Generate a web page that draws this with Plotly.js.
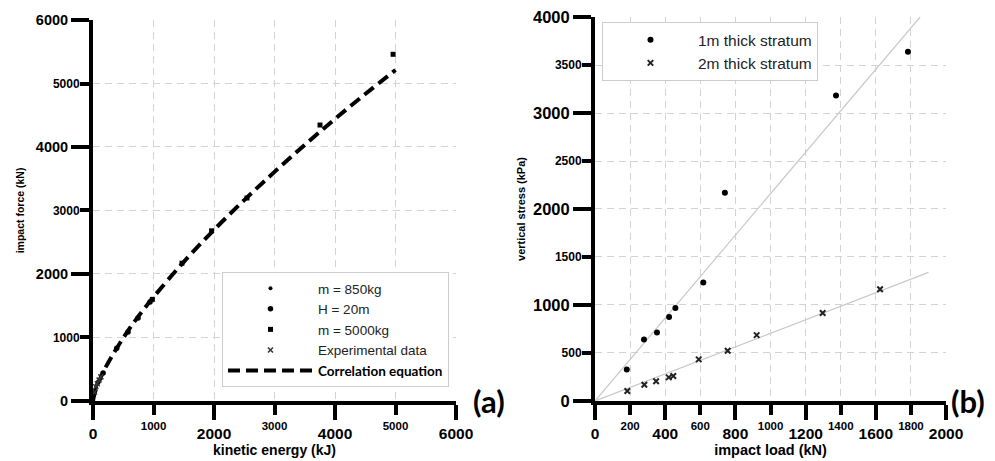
<!DOCTYPE html>
<html><head><meta charset="utf-8">
<script src="https://cdn.plot.ly/plotly-3.0.1.min.js"></script>
<style>html,body{margin:0;padding:0;background:#fff}#chart{width:995px;height:461px}</style>
</head><body><div id="chart"></div>
<script>
// ---------- Panel (a) data ----------
const curveE = [0, 20, 50, 100, 200, 300, 500, 700, 1000, 1500, 2000, 2500, 3000, 3500, 4000, 4500, 5000];
const curveF = [0, 98, 189, 311, 514, 686, 993, 1270, 1636, 2191, 2695, 3164, 3608, 4034, 4442, 4834, 5213];
const m850E = [17, 33, 50, 67, 83];
const m850F = [95, 165, 215, 262, 305];
const h20E = [167, 392, 579, 744, 942];
const h20F = [440, 830, 1087, 1307, 1559];
const m5000E = [981, 1470, 1960, 2545, 3752, 4960];
const m5000F = [1600, 2170, 2680, 3197, 4346, 5460];
const expE = [25, 45, 70, 100, 130];
const expF = [140, 225, 270, 330, 380];
const aXMajor = [0, 2000, 4000, 6000];
const aXMinor = [1000, 3000, 5000];
const aYMajor = [0, 2000, 4000, 6000];
const aYMinor = [1000, 3000, 5000];
// ---------- Panel (b) data ----------
const load1 = [181, 279, 353, 422, 458, 617, 740, 1373, 1783];
const stress1 = [329, 641, 714, 876, 969, 1233, 2170, 3182, 3639];
const load2 = [184, 281, 348, 420, 446, 591, 756, 921, 1297, 1624];
const stress2 = [104, 169, 205, 246, 260, 433, 523, 686, 917, 1164];
const fit1Load = [0, 1852], fit1Stress = [0, 4000];
const fit2Load = [0, 1900], fit2Stress = [0, 1340];
const bXMajor = [0, 400, 800, 1200, 1600, 2000];
const bXMinor = [200, 600, 1000, 1400, 1800];
const bYMajor = [0, 1000, 2000, 3000, 4000];
const bYMinor = [500, 1500, 2500, 3500];

const AR = 'Liberation Sans, Arial, sans-serif';
const GRID = '#d3d3d3', DASH = '7px,5px';
const bold = (s) => ({family: AR, size: s, color: '#000', weight: 'bold'});

function mainAxis(range, major, minor, domain, anchor, len, mlen, fs, title, tfs, standoff) {
  return {
    domain: domain, anchor: anchor, range: range, tickmode: 'array',
    tickvals: major, ticktext: major.map(String),
    ticks: 'outside', ticklen: len, tickwidth: 4, tickcolor: '#000',
    showline: true, linewidth: 4, linecolor: '#000', zeroline: false,
    showgrid: true, gridcolor: GRID, gridwidth: 1, griddash: DASH,
    minor: {tickmode: 'array', tickvals: minor, showgrid: true, gridcolor: GRID, gridwidth: 1, griddash: DASH,
            ticks: 'outside', ticklen: mlen, tickwidth: 4, tickcolor: '#000'},
    tickfont: bold(fs), fixedrange: true,
    title: {text: title, font: bold(tfs), standoff: standoff}
  };
}
function overAxis(over, anchor, range, minor, len, fs) {
  return {
    overlaying: over, anchor: anchor, range: range, tickmode: 'array',
    tickvals: minor, ticktext: minor.map(String),
    ticks: 'outside', ticklen: len, tickwidth: 1, tickcolor: 'rgba(0,0,0,0)',
    showline: false, zeroline: false, showgrid: false,
    tickfont: bold(fs), fixedrange: true
  };
}

const traces = [
  {x: m850E, y: m850F, xaxis: 'x3', yaxis: 'y3', mode: 'markers', name: 'm = 850kg',
   marker: {symbol: 'circle', size: 4, color: '#000'}},
  {x: h20E, y: h20F, xaxis: 'x3', yaxis: 'y3', mode: 'markers', name: 'H = 20m',
   marker: {symbol: 'circle', size: 5.5, color: '#000'}},
  {x: m5000E, y: m5000F, xaxis: 'x3', yaxis: 'y3', mode: 'markers', name: 'm = 5000kg',
   marker: {symbol: 'square', size: 5, color: '#000'}},
  {x: expE, y: expF, xaxis: 'x3', yaxis: 'y3', mode: 'markers', name: 'Experimental data',
   marker: {symbol: 'x-thin', size: 5, line: {width: 1.5, color: '#333'}, color: '#333'}},
  {x: curveE, y: curveF, xaxis: 'x', yaxis: 'y', mode: 'lines', line: {shape: 'spline', color: '#000', width: 4, dash: '12px,6px'},
   name: '<span style="font-family:Lato;font-weight:bold;font-size:13.5px;fill:#000">Correlation equation</span>'},
  // panel (b)
  {x: fit1Load, y: fit1Stress, xaxis: 'x2', yaxis: 'y2', mode: 'lines', showlegend: false,
   line: {color: '#c9c9c9', width: 1.2}},
  {x: fit2Load, y: fit2Stress, xaxis: 'x2', yaxis: 'y2', mode: 'lines', showlegend: false,
   line: {color: '#c9c9c9', width: 1.2}},
  {x: load1, y: stress1, xaxis: 'x4', yaxis: 'y4', mode: 'markers', name: '1m thick stratum', legend: 'legend2',
   marker: {symbol: 'circle', size: 6, color: '#000'}},
  {x: load2, y: stress2, xaxis: 'x4', yaxis: 'y4', mode: 'markers', name: '2m thick stratum', legend: 'legend2',
   marker: {symbol: 'x-thin', size: 5.5, line: {width: 2, color: '#222'}, color: '#222'}}
];

const layout = {
  width: 995, height: 461, margin: {l: 0, r: 0, t: 0, b: 0},
  paper_bgcolor: '#fff', plot_bgcolor: '#fff', showlegend: true,
  xaxis: mainAxis([0, 6000], aXMajor, aXMinor, [0.0935, 0.4583], 'y', 15, 10, 15.5, 'kinetic energy (kJ)', 14, 2),
  yaxis: mainAxis([0, 6000], aYMajor, aYMinor, [0.1302, 0.9566], 'x', 18, 9, 14.5, 'impact force (kN)', 10.5, 10),
  xaxis3: overAxis('x', 'y', [0, 6000], aXMinor, 14, 11.5),
  yaxis3: overAxis('y', 'x', [0, 6000], aYMinor, 10, 12),
  xaxis2: mainAxis([0, 2000], bXMajor, bXMinor, [0.598, 0.9508], 'y2', 15, 10, 15.5, 'impact load (kN)', 14.5, 2),
  yaxis2: mainAxis([0, 4000], bYMajor, bYMinor, [0.1302, 0.9631], 'x2', 18, 9, 16.5, 'vertical stress (kPa)', 11, 6),
  xaxis4: overAxis('x2', 'y2', [0, 2000], bXMinor, 14, 11.5),
  yaxis4: overAxis('y2', 'x2', [0, 4000], bYMinor, 10, 12),
  legend: {x: 0.2231, y: 0.41, xanchor: 'left', yanchor: 'top', bgcolor: '#fff',
    bordercolor: '#cccccc', borderwidth: 1, itemwidth: 85,
    font: {family: AR, size: 13.5, color: '#222'}, tracegroupgap: 0},
  legend2: {x: 0.605, y: 0.952, xanchor: 'left', yanchor: 'top', bgcolor: '#fff',
    bordercolor: '#cccccc', borderwidth: 1, itemwidth: 85,
    font: {family: AR, size: 15.5, color: '#222'}},
  annotations: [
    {text: '(a)', xref: 'paper', yref: 'paper', x: 471 / 995, y: (461 - 401) / 461, xanchor: 'left', yanchor: 'middle',
     showarrow: false, font: {family: 'Lato', size: 31, color: '#000', weight: 'bold'}},
    {text: '(b)', xref: 'paper', yref: 'paper', x: 949 / 995, y: (461 - 401) / 461, xanchor: 'left', yanchor: 'middle',
     showarrow: false, font: {family: 'Lato', size: 31, color: '#000', weight: 'bold'}}
  ]
};

Plotly.newPlot('chart', traces, layout, {displayModeBar: false, staticPlot: true});
</script>
</body></html>
